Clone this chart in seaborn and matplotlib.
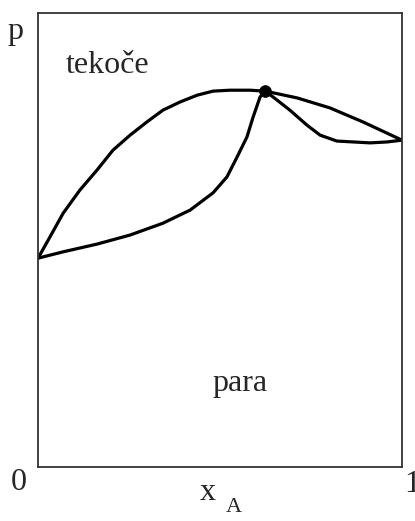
import matplotlib
matplotlib.use("Agg")
import matplotlib.pyplot as plt
import seaborn as sns
import pandas as pd

# Composition x_A and pressure p (relative units) for the boundary curves
liquid_x = [0.0, 0.033, 0.069, 0.115, 0.162, 0.206, 0.253, 0.299, 0.343, 0.390, 0.437,
            0.481, 0.527, 0.582, 0.624, 0.712, 0.802, 0.893, 1.0]
liquid_p = [0.460, 0.507, 0.559, 0.610, 0.654, 0.698, 0.731, 0.760, 0.786, 0.804, 0.819,
            0.828, 0.830, 0.830, 0.828, 0.813, 0.791, 0.760, 0.720]

vapour_left_x = [0.0, 0.069, 0.162, 0.253, 0.343, 0.418, 0.481, 0.519, 0.547, 0.574, 0.591, 0.610, 0.624]
vapour_left_p = [0.460, 0.474, 0.491, 0.511, 0.537, 0.566, 0.604, 0.639, 0.683, 0.727, 0.771, 0.815, 0.828]

vapour_right_x = [0.624, 0.646, 0.692, 0.739, 0.775, 0.821, 0.912, 0.959, 1.0]
vapour_right_p = [0.828, 0.815, 0.786, 0.753, 0.731, 0.718, 0.714, 0.716, 0.720]

azeotrope_x = [0.624]
azeotrope_p = [0.828]

sns.set_style("white")
plt.rcParams["font.family"] = ["Liberation Serif", "DejaVu Serif"]

fig = plt.figure(figsize=(4.15, 5.21), dpi=100)
ax = fig.add_axes([0.0916, 0.1036, 0.8771, 0.8714])

for xs, ps in [(liquid_x, liquid_p), (vapour_left_x, vapour_left_p), (vapour_right_x, vapour_right_p)]:
    df = pd.DataFrame({"x": xs, "p": ps})
    sns.lineplot(data=df, x="x", y="p", sort=False, color="black", linewidth=2.3, ax=ax)

sns.scatterplot(x=azeotrope_x, y=azeotrope_p, color="black", s=70, edgecolor="black", zorder=5, ax=ax)

ax.set_xlim(0, 1)
ax.set_ylim(0, 1)
ax.set_xticks([])
ax.set_yticks([])
ax.set_xlabel("")
ax.set_ylabel("")
for s in ax.spines.values():
    s.set_color("#333333")
    s.set_linewidth(1.3)

ax.text(0.075, 0.885, "tekoče", fontsize=23, ha="left", va="center")
ax.text(0.48, 0.185, "para", fontsize=23, ha="left", va="center")

fig.text(15 / 415, 1 - 32 / 521, "p", fontsize=23, ha="center", va="center")
fig.text(19 / 415, 1 - 483 / 521, "0", fontsize=23, ha="center", va="center")
fig.text(404 / 415, 1 - 484 / 521, "1", fontsize=23, ha="left", va="center")
fig.text(208 / 415, 1 - 492 / 521, "x", fontsize=23, ha="center", va="center")
fig.text(234 / 415, 1 - 507 / 521, "A", fontsize=16, ha="center", va="center")

fig.savefig("out.png", dpi=100)
